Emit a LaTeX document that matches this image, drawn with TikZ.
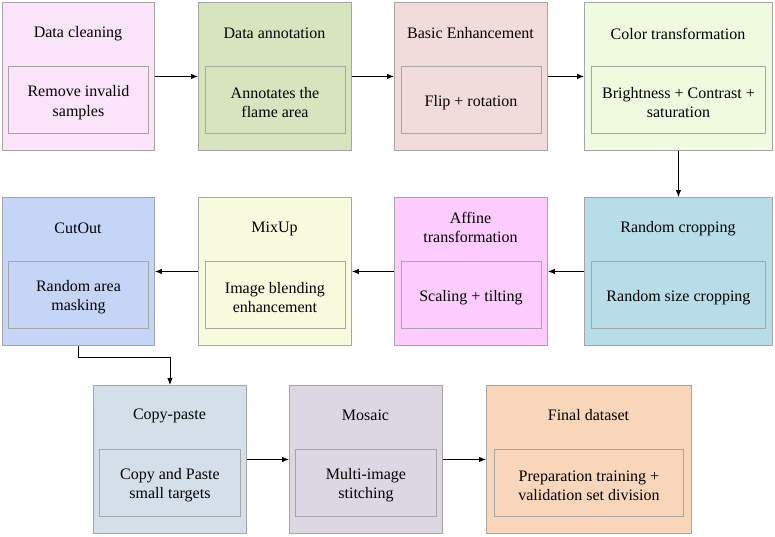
\documentclass[tikz,border=0pt]{standalone}
\usepackage{fontspec}
\setmainfont{Liberation Serif}
\usetikzlibrary{arrows.meta}
\definecolor{c1}{HTML}{FCE4FA}
\definecolor{c2}{HTML}{D7E4BD}
\definecolor{c3}{HTML}{F2DCDB}
\definecolor{c4}{HTML}{F0FADF}
\definecolor{c5}{HTML}{B7DDE8}
\definecolor{c6}{HTML}{FFCCFF}
\definecolor{c7}{HTML}{F9FBDF}
\definecolor{c8}{HTML}{C5D5F8}
\definecolor{c9}{HTML}{D5DFEA}
\definecolor{c10}{HTML}{DDD6E3}
\definecolor{c11}{HTML}{FAD6BA}
\definecolor{bordc}{HTML}{A6A6A6}
\tikzset{
  outerbox/.style={draw=bordc, line width=0.9pt, anchor=north west, minimum height=148pt, inner sep=0pt},
  innerbox/.style={draw=bordc, line width=0.9pt, anchor=north west, minimum height=67pt, inner sep=0pt, align=center, font=\fontsize{16}{19.5}\selectfont, execute at begin node={\rule{0pt}{#1}}},
  innerbox/.default=16pt,
  titletext/.style={align=center, inner sep=0pt, font=\fontsize{16}{19.5}\selectfont},
  arr/.style={draw=black, line width=0.9pt, -{Latex[length=7pt,width=5.5pt]}}
}
\begin{document}
\begin{tikzpicture}[x=1pt,y=-1pt]
\useasboundingbox (0,0) rectangle (775,536);
% Row 1
\node[outerbox, fill=c1, minimum width=152pt] (b1) at (2,2) {};
\node[titletext] (b1t) at (78,33.5) {Data cleaning};
\node[innerbox=35.5pt, minimum width=140pt] (b1i) at (8,66) {Remove invalid\\samples};

\node[outerbox, fill=c2, minimum width=153pt] (b2) at (198,2) {};
\node[titletext] (b2t) at (274.5,33.5) {Data annotation};
\node[innerbox=35.5pt, minimum width=140pt] (b2i) at (204.5,66) {Annotates the\\flame area};

\node[outerbox, fill=c3, minimum width=153pt] (b3) at (394,2) {};
\node[titletext] (b3t) at (470.5,33.5) {Basic Enhancement};
\node[innerbox, minimum width=140pt] (b3i) at (400.5,66) {Flip + rotation};

\node[outerbox, fill=c4, minimum width=188pt] (b4) at (584,2) {};
\node[titletext] (b4t) at (678,33.5) {Color transformation};
\node[innerbox=35.5pt, minimum width=174pt] (b4i) at (591,66) {Brightness + Contrast +\\saturation};

% Row 2
\node[outerbox, fill=c5, minimum width=188pt] (b5) at (584,197) {};
\node[titletext] (b5t) at (678,228.5) {Random cropping};
\node[innerbox, minimum width=174pt] (b5i) at (591,261) {Random size cropping};

\node[outerbox, fill=c6, minimum width=153pt] (b6) at (394,197) {};
\node[titletext] (b6t) at (470.5,227.5) {Affine\\transformation};
\node[innerbox, minimum width=140pt] (b6i) at (400.5,261) {Scaling + tilting};

\node[outerbox, fill=c7, minimum width=153pt] (b7) at (198,197) {};
\node[titletext] (b7t) at (274.5,228.5) {MixUp};
\node[innerbox=35.5pt, minimum width=140pt] (b7i) at (204.5,261) {Image blending\\enhancement};

\node[outerbox, fill=c8, minimum width=152pt] (b8) at (2,197) {};
\node[titletext] (b8t) at (78,228.5) {CutOut};
\node[innerbox=35.5pt, minimum width=140pt] (b8i) at (8,261) {Random area\\masking};

% Row 3
\node[outerbox, fill=c9, minimum width=153pt] (b9) at (93,385) {};
\node[titletext] (b9t) at (169.5,415.5) {Copy-paste};
\node[innerbox=35.5pt, minimum width=141pt] (b9i) at (99,449) {Copy and Paste\\small targets};

\node[outerbox, fill=c10, minimum width=153pt] (b10) at (289,385) {};
\node[titletext] (b10t) at (365.5,415.5) {Mosaic};
\node[innerbox=35.5pt, minimum width=141pt] (b10i) at (295,449) {Multi-image\\stitching};

\node[outerbox, fill=c11, minimum width=205pt] (b11) at (486,385) {};
\node[titletext] (b11t) at (588.5,415.5) {Final dataset};
\node[innerbox=35.5pt, minimum width=189pt] (b11i) at (494,449) {Preparation training +\\validation set division};

% Connectors
\draw[arr] (b1) -- (b2);
\draw[arr] (b2) -- (b3);
\draw[arr] (b3) -- (b4);
\draw[arr] (b4) -- (b5);
\draw[arr] (b5) -- (b6);
\draw[arr] (b6) -- (b7);
\draw[arr] (b7) -- (b8);
\draw[arr] (b8.south) -- ++(0,12) -| (b9.north);
\draw[arr] (b9) -- (b10);
\draw[arr] (b10) -- (b11);
\end{tikzpicture}
\end{document}
